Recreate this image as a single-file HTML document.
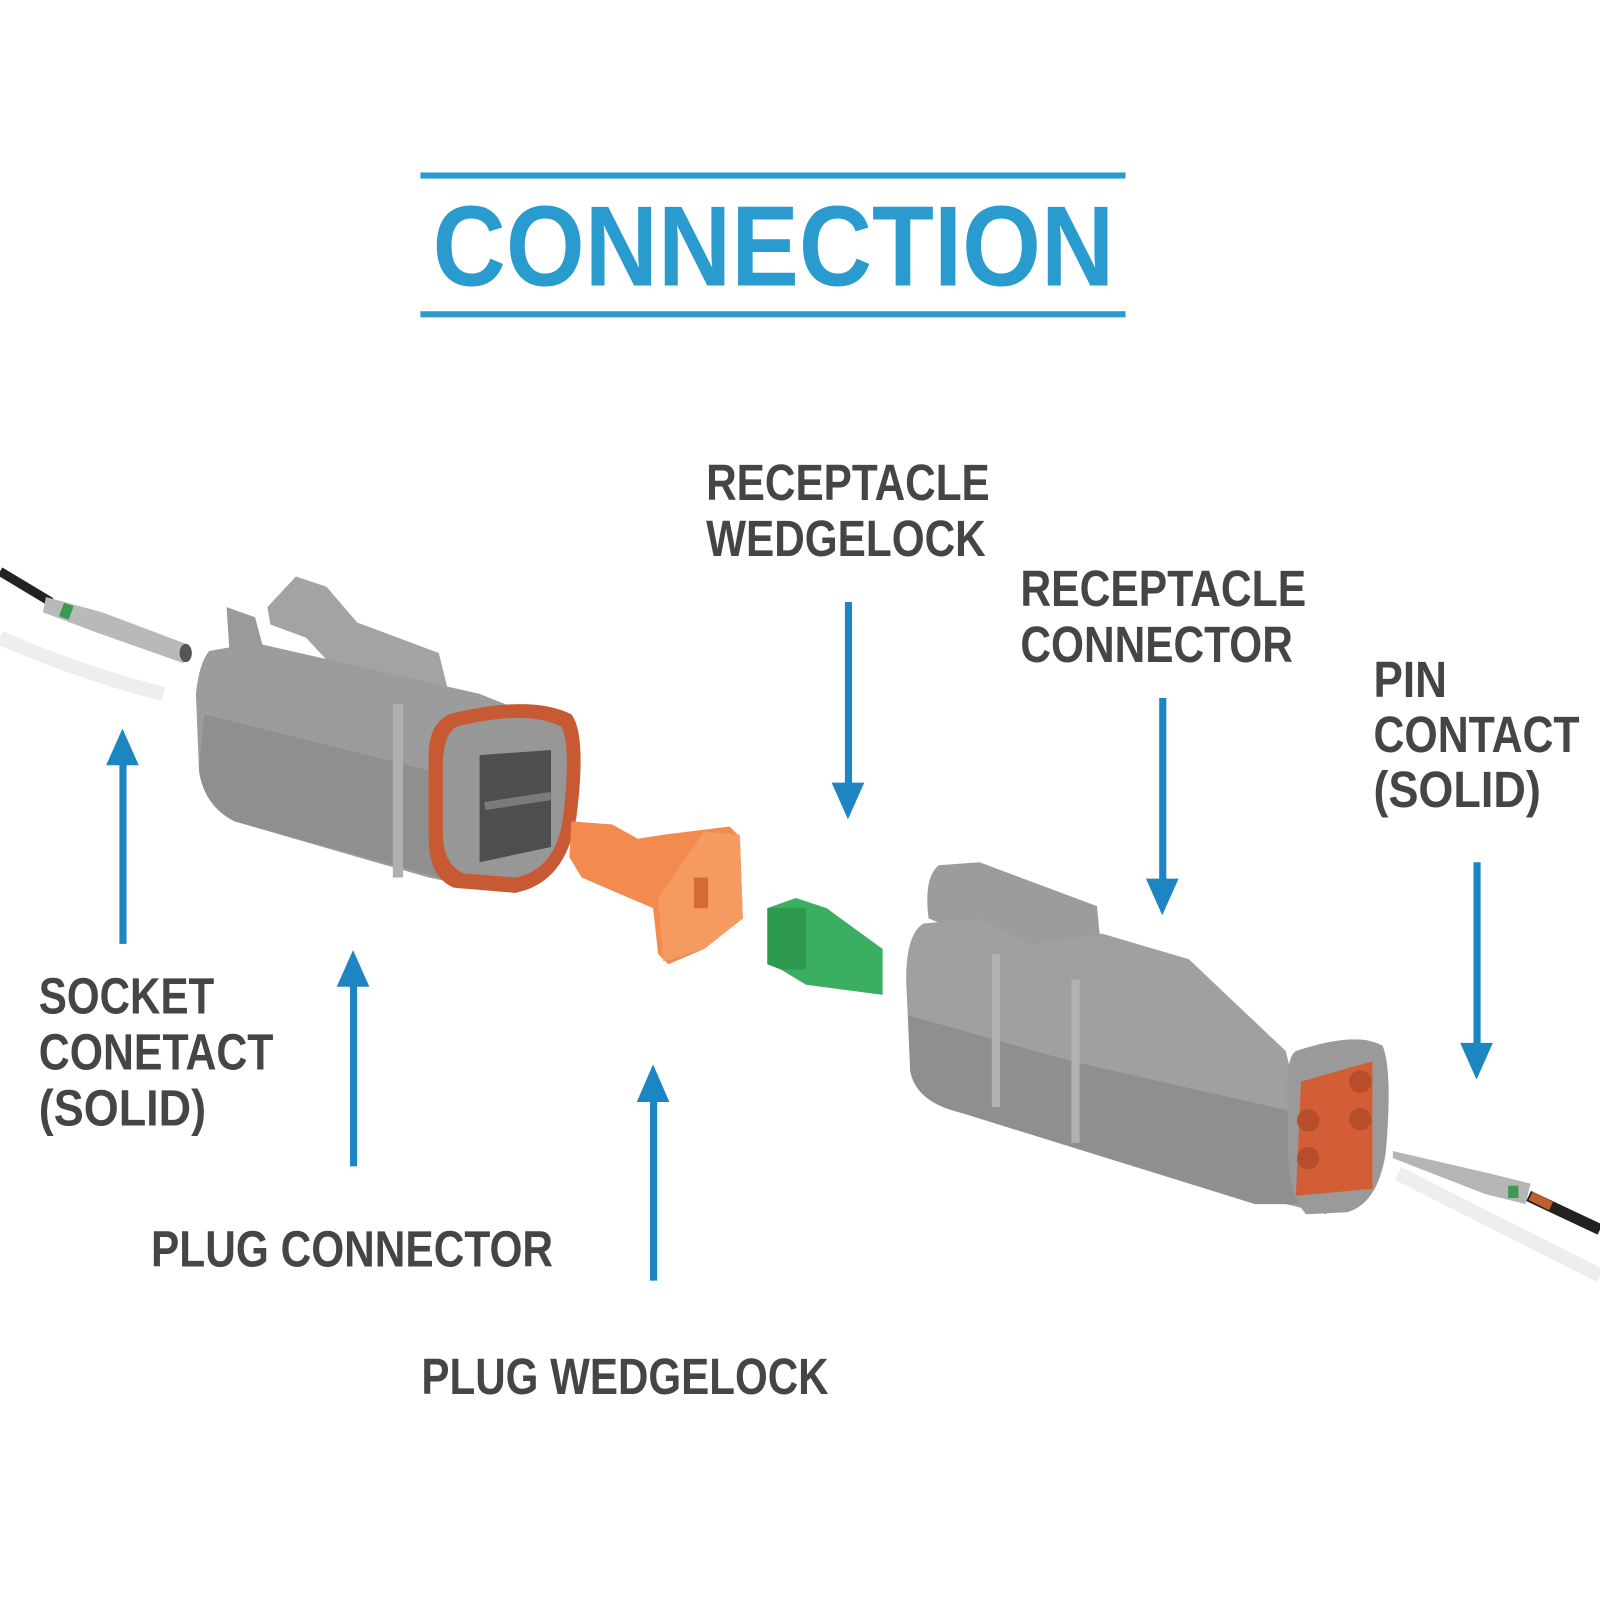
<!DOCTYPE html>
<html><head><meta charset="utf-8"><style>
html,body{margin:0;padding:0;background:#fff;width:1600px;height:1600px;overflow:hidden}
svg{display:block}
.t{font-family:"Liberation Sans Narrow","Liberation Sans",sans-serif;font-weight:bold;fill:#454545;font-size:50px}
</style></head><body>
<svg width="1600" height="1600" viewBox="0 0 1568 1568" xmlns="http://www.w3.org/2000/svg">
<rect width="1568" height="1568" fill="#fff"/>
<!-- title -->
<rect x="412" y="169" width="691" height="6" fill="#2a9bce"/>
<rect x="412" y="305" width="691" height="6" fill="#2a9bce"/>
<text x="424" y="280" textLength="668" lengthAdjust="spacingAndGlyphs" style="font-family:'Liberation Sans Narrow','Liberation Sans',sans-serif;font-weight:bold;font-size:112px;fill:#2a9bce">CONNECTION</text>

<!-- labels -->
<text class="t" x="692" y="490" textLength="278" lengthAdjust="spacingAndGlyphs">RECEPTACLE</text>
<text class="t" x="692" y="545" textLength="274" lengthAdjust="spacingAndGlyphs">WEDGELOCK</text>
<text class="t" x="1000" y="594" textLength="280" lengthAdjust="spacingAndGlyphs">RECEPTACLE</text>
<text class="t" x="1000" y="649" textLength="267" lengthAdjust="spacingAndGlyphs">CONNECTOR</text>
<text class="t" x="1346" y="683" textLength="72" lengthAdjust="spacingAndGlyphs">PIN</text>
<text class="t" x="1346" y="737" textLength="202" lengthAdjust="spacingAndGlyphs">CONTACT</text>
<text class="t" x="1346" y="791" textLength="164" lengthAdjust="spacingAndGlyphs">(SOLID)</text>
<text class="t" x="38" y="993" textLength="172" lengthAdjust="spacingAndGlyphs">SOCKET</text>
<text class="t" x="38" y="1048" textLength="230" lengthAdjust="spacingAndGlyphs">CONETACT</text>
<text class="t" x="38" y="1103" textLength="164" lengthAdjust="spacingAndGlyphs">(SOLID)</text>
<text class="t" x="148" y="1241" textLength="394" lengthAdjust="spacingAndGlyphs">PLUG CONNECTOR</text>
<text class="t" x="413" y="1366" textLength="399" lengthAdjust="spacingAndGlyphs">PLUG WEDGELOCK</text>

<!-- arrows -->
<g fill="#1d86c2">
<rect x="117" y="745" width="7" height="180"/><polygon points="104,750 136,750 120,714"/>
<rect x="343" y="962" width="7" height="181"/><polygon points="330,967 362,967 346,931"/>
<rect x="637" y="1075" width="7" height="180"/><polygon points="624,1080 656,1080 640,1043"/>
<rect x="828" y="590" width="7" height="182"/><polygon points="815,767 847,767 831,803"/>
<rect x="1136" y="684" width="7" height="182"/><polygon points="1123,861 1155,861 1139,897"/>
<rect x="1444" y="845" width="7" height="182"/><polygon points="1431,1022 1463,1022 1447,1058"/>
</g>

<!-- left wire + socket -->
<path d="M0,560 L50,590" stroke="#222" stroke-width="9"/>
<path d="M0,625 Q80,660 160,680" stroke="#eee" stroke-width="14" fill="none"/>
<polygon points="45,585 100,600 185,632 180,650 95,620 42,600" fill="#b9b9b9"/>
<ellipse cx="182" cy="640" rx="6" ry="9" fill="#555"/>
<rect x="60" y="592" width="10" height="14" fill="#3a9a50" transform="rotate(20 65 599)"/>

<!-- plug connector -->
<g>
<polygon points="222,595 250,605 262,650 225,640" fill="#9a9a9a"/>
<polygon points="262,595 290,565 320,575 350,610 430,640 445,700 360,690 300,625 265,612" fill="#a3a3a3"/>
<polygon points="305,645 420,675 420,700 305,670" fill="#8a8a8a"/>
<path d="M205,638 Q195,650 192,680 L195,755 Q200,790 230,805 L420,860 L470,870 L520,700 L470,680 L250,630 Z" fill="#9c9c9c"/>
<path d="M200,700 L440,760 L430,860 L230,805 Q200,790 195,755 Z" fill="#8f8f8f"/>
<rect x="385" y="690" width="10" height="170" fill="#b0b0b0"/>
<path d="M440,700 Q520,680 560,700 Q575,720 565,800 Q555,865 505,875 L445,870 Q420,860 420,820 L420,740 Q420,710 440,700 Z" fill="#c85a33"/>
<path d="M448,712 Q515,695 550,712 Q560,730 552,800 Q545,852 505,860 L455,856 Q434,848 434,815 L434,745 Q436,718 448,712 Z" fill="#979797"/>
<path d="M470,740 L540,735 L540,830 L470,845 Z" fill="#4e4e4e"/>
<path d="M475,790 L540,780" stroke="#7a7a7a" stroke-width="8"/>
</g>

<!-- orange wedgelock -->
<polygon points="560,805 600,808 625,822 650,818 715,810 725,820 728,900 690,930 655,945 645,935 640,890 570,860 558,840" fill="#f38a4e"/>
<polygon points="690,815 725,818 728,900 690,930 650,942 645,880" fill="#f59a60"/>
<rect x="680" y="860" width="14" height="30" fill="#d46a35"/>

<!-- green wedgelock -->
<polygon points="752,890 780,880 810,890 865,930 865,975 790,965 765,950 752,945" fill="#3aaf62"/>
<polygon points="752,890 790,890 790,950 765,950 752,945" fill="#2e9a50"/>

<!-- receptacle connector -->
<g>
<path d="M920,848 L960,845 L1075,888 L1080,940 L1020,945 L910,900 Q905,860 920,848 Z" fill="#9c9c9c"/>
<path d="M905,905 Q888,915 888,960 L892,1050 Q900,1080 940,1090 L1060,1120 L1220,1170 L1300,1190 L1260,1030 L1165,940 L1080,915 L1010,925 L960,900 Z" fill="#a0a0a0"/>
<path d="M890,995 L1050,1040 L1270,1090 L1280,1180 L1230,1180 L940,1090 Q898,1080 892,1050 Z" fill="#8f8f8f"/>
<rect x="972" y="935" width="8" height="150" fill="#b2b2b2"/>
<rect x="1050" y="960" width="8" height="160" fill="#b2b2b2"/>
<path d="M1270,1030 Q1330,1010 1355,1025 Q1365,1050 1358,1130 Q1350,1180 1320,1188 L1280,1190 Q1262,1170 1262,1120 L1262,1060 Q1262,1035 1270,1030 Z" fill="#9a9a9a"/>
<path d="M1275,1060 L1345,1040 L1345,1165 L1270,1172 Z" fill="#d35d35"/>
<g fill="#b84d2c"><circle cx="1282" cy="1098" r="11"/><circle cx="1333" cy="1060" r="11"/><circle cx="1333" cy="1097" r="11"/><circle cx="1282" cy="1135" r="11"/></g>
</g>

<!-- right pin + wire -->
<path d="M1370,1150 Q1450,1190 1568,1250" stroke="#eee" stroke-width="14" fill="none"/>
<polygon points="1365,1128 1460,1150 1500,1160 1495,1180 1455,1170 1365,1135" fill="#b5b5b5"/>
<rect x="1478" y="1162" width="10" height="12" fill="#3a9a50"/>
<path d="M1498,1172 L1568,1205" stroke="#222" stroke-width="11"/>
<path d="M1500,1172 L1520,1182" stroke="#c0602a" stroke-width="9"/>
</svg>
</body></html>
